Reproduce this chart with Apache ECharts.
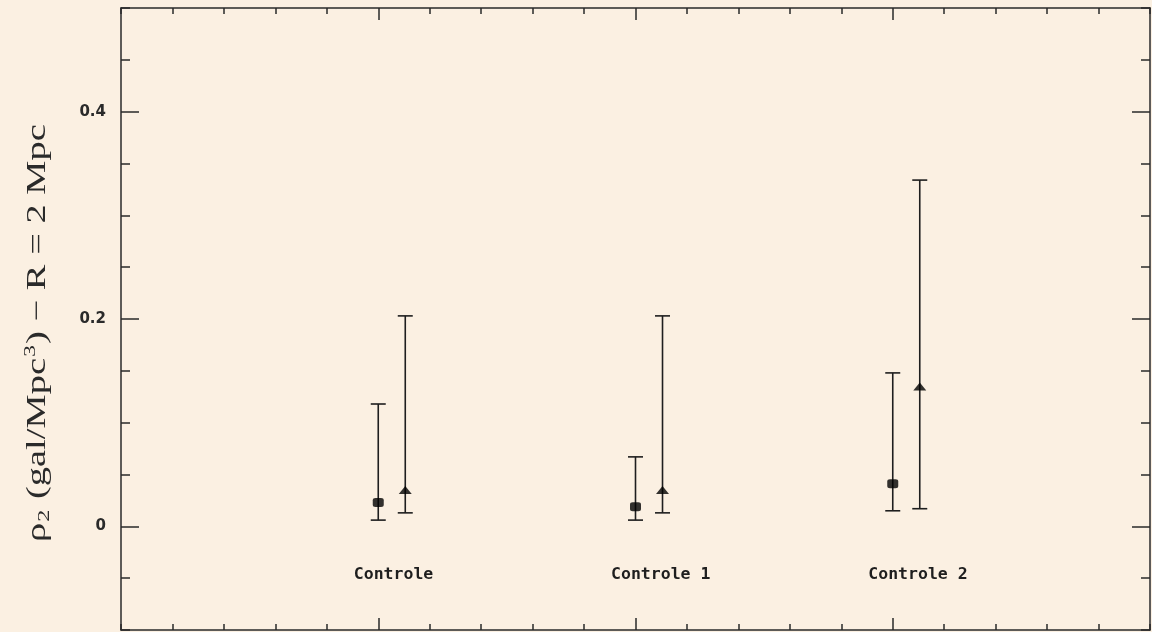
<!DOCTYPE html>
<html>
<head>
<meta charset="utf-8">
<script src="https://cdn.jsdelivr.net/npm/echarts@6/dist/echarts.min.js"></script>
<style>
html,body{margin:0;padding:0;background:#FBF0E2;}
#chart{width:1152px;height:632px;}
</style>
</head>
<body>
<div id="chart"></div>
<script>
// ---- data ----
var categories = ['Controle', 'Controle 1', 'Controle 2'];
var categoryPos = [1, 2, 3];
var squareVal  = [0.023, 0.019, 0.041];
var squareLow  = [0.006, 0.006, 0.015];
var squareHigh = [0.118, 0.067, 0.148];
var triVal  = [0.035, 0.035, 0.135];
var triLow  = [0.013, 0.013, 0.017];
var triHigh = [0.203, 0.203, 0.334];
var triShift = 0.105;           // triangles sit just right of each category
var yTickLabels = [0, 0.2, 0.4];
var xMajorTicks = [1, 2, 3];
var catLabelY = -0.047;

var INK = '#1e1e1e';
var AX = '#2a2a2a';
var chart = echarts.init(document.getElementById('chart'));

var gridBox = {left: 121, top: 8, right: 2, bottom: 2, containLabel: false};

function xShort(pos, gi) {
  return {type: 'value', gridIndex: gi, position: pos, min: 0, max: 4, interval: 0.2,
    axisLine: {show: true, onZero: false, lineStyle: {color: AX, width: 1.5}},
    axisTick: {show: true, inside: true, length: 6, lineStyle: {color: AX, width: 1.5}},
    axisLabel: {show: false}, splitLine: {show: false}};
}
function xLong(pos, gi) {
  return {type: 'value', gridIndex: gi, position: pos, min: 0, max: 4,
    axisLine: {show: false, onZero: false},
    axisTick: {show: true, inside: true, length: 12, customValues: xMajorTicks, lineStyle: {color: AX, width: 1.5}},
    axisLabel: {show: false}, splitLine: {show: false}};
}
function yShort(pos, gi) {
  return {type: 'value', gridIndex: gi, position: pos, min: -0.1, max: 0.5, interval: 0.05,
    axisLine: {show: true, onZero: false, lineStyle: {color: AX, width: 1.5}},
    axisTick: {show: true, inside: true, length: 9, lineStyle: {color: AX, width: 1.5}},
    axisLabel: {show: false}, splitLine: {show: false}};
}
function yLong(pos, gi, labels) {
  return {type: 'value', gridIndex: gi, position: pos, min: -0.1, max: 0.5,
    axisLine: {show: false, onZero: false},
    axisTick: {show: true, inside: true, length: 18, customValues: yTickLabels, lineStyle: {color: AX, width: 1.5}},
    axisLabel: labels ? {show: true, customValues: yTickLabels, margin: 15,
      fontFamily: 'DejaVu Sans', fontWeight: 'bold', fontSize: 15, color: AX,
      formatter: function (v) { return v === 0 ? '0' : v.toFixed(1); }} : {show: false},
    splitLine: {show: false}};
}

var errSquare = categoryPos.map(function (c, i) { return [c, squareLow[i], squareHigh[i]]; });
var errTri = categoryPos.map(function (c, i) { return [c + triShift, triLow[i], triHigh[i]]; });

function errRender(params, api) {
  var x = api.value(0);
  var p1 = api.coord([x, api.value(1)]);
  var p2 = api.coord([x, api.value(2)]);
  var hw = 7.5;
  var st = {stroke: INK, lineWidth: 1.6};
  return {type: 'group', children: [
    {type: 'line', shape: {x1: p1[0], y1: p1[1], x2: p2[0], y2: p2[1]}, style: st},
    {type: 'line', shape: {x1: p1[0] - hw, y1: p1[1], x2: p1[0] + hw, y2: p1[1]}, style: st},
    {type: 'line', shape: {x1: p2[0] - hw, y1: p2[1], x2: p2[0] + hw, y2: p2[1]}, style: st}
  ]};
}

var option = {
  backgroundColor: '#FBF0E2',
  animation: false,
  grid: [gridBox, gridBox],
  graphic: [{
    type: 'text', x: 38, y: 333, rotation: Math.PI / 2, scaleY: 0.7, z: 10,
    style: {
      text: '{a|ρ}{s|2}{a| (gal/Mpc}{p|3}{a|) − R = 2 Mpc}',
      align: 'center', verticalAlign: 'middle',
      rich: {
        a: {fontFamily: 'Liberation Serif', fontSize: 38.5, fill: AX},
        s: {fontFamily: 'Liberation Serif', fontSize: 24, fill: AX, padding: [18, 1, 0, 1]},
        p: {fontFamily: 'Liberation Serif', fontSize: 24, fill: AX, padding: [0, 1, 22, 1]}
      }
    }
  }],
  xAxis: [xShort('bottom', 0), xShort('top', 0), xLong('bottom', 1), xLong('top', 1)],
  yAxis: [yShort('left', 0), yShort('right', 0), yLong('left', 1, true), yLong('right', 1, false)],
  series: [
    {type: 'custom', xAxisIndex: 0, yAxisIndex: 0, renderItem: errRender, data: errSquare, z: 2},
    {type: 'custom', xAxisIndex: 0, yAxisIndex: 0, renderItem: errRender, data: errTri, z: 2},
    {type: 'scatter', xAxisIndex: 0, yAxisIndex: 0, symbol: 'roundRect', symbolSize: [11, 9],
      itemStyle: {color: '#000'}, z: 3,
      data: categoryPos.map(function (c, i) { return [c, squareVal[i]]; })},
    {type: 'scatter', xAxisIndex: 0, yAxisIndex: 0, symbol: 'triangle', symbolSize: [13, 8],
      itemStyle: {color: '#000'}, z: 3,
      data: categoryPos.map(function (c, i) { return [c + triShift, triVal[i]]; })},
    {type: 'custom', xAxisIndex: 0, yAxisIndex: 0, z: 3,
      data: categoryPos.map(function (c) { return [c - 0.095, catLabelY]; }),
      renderItem: function (params, api) {
        var p = api.coord([api.value(0), api.value(1)]);
        return {type: 'text', x: p[0], y: p[1], style: {
          text: categories[params.dataIndex], fill: '#1e1e1e',
          font: 'bold 16.5px "DejaVu Sans Mono"', align: 'left', verticalAlign: 'middle'}};
      }}
  ]
};
chart.setOption(option);
</script>
</body>
</html>
